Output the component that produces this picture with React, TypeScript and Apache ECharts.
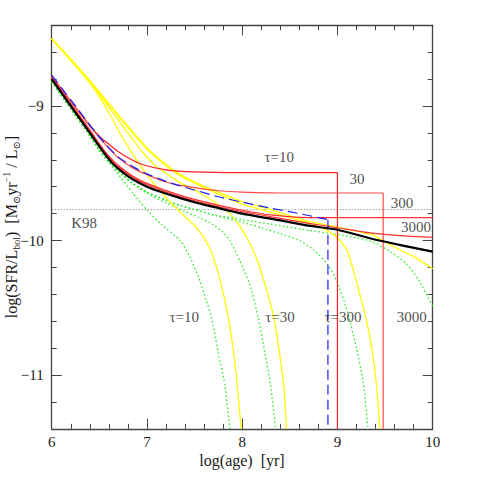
import React, { useEffect, useRef } from "react";
import * as echarts from "echarts";

const FONT = "'Liberation Serif', 'DejaVu Serif', serif";

// axis ticks
const xTickValues = [6, 7, 8, 9, 10];
const yMajorTicks = [-11, -10, -9];

// K98 reference level
const k98Level = -9.77;

// constant SFR (black)
const blackCurve = [
  [6.0, -8.8], [6.2, -9.0], [6.4, -9.2], [6.55, -9.35], [6.65, -9.435], [6.75, -9.495],
  [6.85, -9.545], [7.0, -9.6], [7.15, -9.64], [7.35, -9.685], [7.55, -9.725], [7.7, -9.75],
  [8.0, -9.8], [8.4, -9.85], [8.7, -9.89], [9.0, -9.92], [9.35, -9.985], [9.7, -10.04], [10.0, -10.083],
];

// blue dashed (truncated at 8.9)
const blueCurve = [
  [6.0, -8.77], [6.2, -8.955], [6.4, -9.14], [6.5, -9.23], [6.6, -9.31], [6.7, -9.38],
  [6.85, -9.45], [7.0, -9.505], [7.2, -9.56], [7.35, -9.595], [7.55, -9.635], [7.75, -9.675],
  [8.0, -9.715], [8.3, -9.76], [8.6, -9.8], [8.9, -9.845],
];
const blueDrop = [[8.9, -9.845], [8.9, -11.4]];

// red curves
const red10 = [
  [6.0, -8.78], [6.2, -8.965], [6.4, -9.145], [6.5, -9.225], [6.6, -9.285], [6.7, -9.34],
  [6.8, -9.385], [6.95, -9.435], [7.2, -9.475], [7.5, -9.49], [8.0, -9.495], [9.0, -9.495],
];
const red10Drop = [[9.0, -9.495], [9.0, -11.4]];
const red30 = [
  [6.0, -8.78], [6.2, -8.965], [6.4, -9.15], [6.5, -9.235], [6.6, -9.315], [6.7, -9.385],
  [6.85, -9.46], [7.0, -9.51], [7.2, -9.565], [7.35, -9.59], [7.55, -9.612], [7.75, -9.63],
  [8.0, -9.64], [8.5, -9.647], [9.48, -9.647],
];
const red30Drop = [[9.48, -9.647], [9.48, -11.4]];
const red300 = [
  [6.0, -8.79], [6.2, -8.985], [6.4, -9.18], [6.55, -9.33], [6.65, -9.41], [6.75, -9.47],
  [6.85, -9.52], [7.0, -9.575], [7.35, -9.665], [7.7, -9.73], [8.0, -9.775], [8.3, -9.81],
  [8.6, -9.828], [9.0, -9.83], [10.0, -9.83],
];
const red3000 = [
  [6.0, -8.79], [6.2, -8.985], [6.4, -9.18], [6.55, -9.335], [6.65, -9.42], [6.75, -9.48],
  [6.85, -9.53], [7.0, -9.585], [7.35, -9.675], [7.7, -9.74], [8.0, -9.785], [8.4, -9.835],
  [8.7, -9.872], [9.0, -9.905], [9.36, -9.945], [9.7, -9.965], [10.0, -9.976],
];

// yellow curves
const yellow10 = [
  [6.0, -8.5], [6.2, -8.66], [6.4, -8.83], [6.5, -8.93], [6.6, -9.05], [6.7, -9.18],
  [6.8, -9.3], [6.9, -9.41], [7.0, -9.51], [7.1, -9.6], [7.2, -9.68], [7.35, -9.79],
  [7.5, -9.89], [7.6, -9.98], [7.68, -10.09], [7.77, -10.3], [7.85, -10.56], [7.9, -10.78],
  [7.94, -11.02], [7.97, -11.25], [7.99, -11.4],
];
const yellow30 = [
  [6.0, -8.5], [6.2, -8.66], [6.4, -8.82], [6.6, -9.01], [6.8, -9.2], [6.95, -9.34],
  [7.1, -9.45], [7.35, -9.57], [7.55, -9.645], [7.7, -9.71], [7.87, -9.8], [7.97, -9.89],
  [8.08, -10.02], [8.16, -10.15], [8.24, -10.33], [8.3, -10.48], [8.34, -10.6], [8.39, -10.83],
  [8.435, -11.07], [8.465, -11.4],
];
const yellow300 = [
  [6.0, -8.5], [6.2, -8.655], [6.4, -8.815], [6.6, -8.99], [6.8, -9.16], [7.0, -9.32],
  [7.2, -9.445], [7.35, -9.52], [7.55, -9.59], [7.75, -9.655], [8.0, -9.73], [8.3, -9.79],
  [8.7, -9.87], [8.85, -9.91], [9.0, -9.98], [9.1, -10.07], [9.19, -10.28], [9.25, -10.44],
  [9.31, -10.61], [9.36, -10.8], [9.39, -10.95], [9.42, -11.15], [9.445, -11.4],
];
const yellow3000 = [
  [6.0, -8.5], [6.2, -8.65], [6.4, -8.81], [6.6, -8.98], [6.8, -9.15], [7.0, -9.31],
  [7.2, -9.435], [7.35, -9.51], [7.55, -9.58], [7.75, -9.64], [8.0, -9.71], [8.3, -9.77],
  [8.66, -9.85], [9.0, -9.9], [9.2, -9.93], [9.36, -9.955], [9.45, -9.99], [9.6, -10.05],
  [9.8, -10.12], [10.0, -10.21],
];

// green dotted curves
const green10 = [
  [6.0, -8.82], [6.2, -9.02], [6.4, -9.22], [6.5, -9.33], [6.6, -9.42], [6.7, -9.51],
  [6.85, -9.645], [7.0, -9.775], [7.15, -9.88], [7.35, -10.0], [7.45, -10.12], [7.555, -10.3],
  [7.62, -10.44], [7.68, -10.58], [7.747, -10.83], [7.817, -11.07], [7.87, -11.4],
];
const green30 = [
  [6.0, -8.82], [6.2, -9.02], [6.4, -9.22], [6.5, -9.33], [6.6, -9.415], [6.7, -9.485],
  [6.85, -9.575], [7.0, -9.65], [7.2, -9.72], [7.4, -9.785], [7.55, -9.83], [7.7, -9.885],
  [7.8, -9.94], [7.87, -10.0], [7.975, -10.15], [8.08, -10.33], [8.167, -10.57], [8.237, -10.83],
  [8.297, -11.07], [8.35, -11.4],
];
const green300 = [
  [6.0, -8.82], [6.2, -9.02], [6.4, -9.22], [6.5, -9.33], [6.6, -9.415], [6.7, -9.485],
  [6.85, -9.575], [7.0, -9.64], [7.2, -9.7], [7.35, -9.74], [7.55, -9.78], [7.7, -9.81],
  [8.0, -9.865], [8.2, -9.905], [8.4, -9.95], [8.6, -10.0], [8.75, -10.07], [8.9, -10.18],
  [9.0, -10.31], [9.1, -10.52], [9.2, -10.8], [9.27, -11.05], [9.32, -11.4],
];
const green3000 = [
  [6.0, -8.82], [6.2, -9.02], [6.4, -9.22], [6.5, -9.33], [6.6, -9.415], [6.7, -9.485],
  [6.85, -9.575], [7.0, -9.64], [7.2, -9.7], [7.35, -9.74], [7.55, -9.78], [7.7, -9.81],
  [8.0, -9.845], [8.4, -9.89], [8.7, -9.925], [9.0, -9.955], [9.2, -9.98], [9.37, -10.01],
  [9.55, -10.08], [9.72, -10.17], [9.85, -10.29], [10.0, -10.49],
];

// annotations
const labelTexts = ["τ=10", "30", "300", "3000", "K98", "τ=10", "τ=30", "τ=300", "3000"];
const labelAges = [8.388, 9.205, 9.678, 9.825, 6.341, 7.391, 8.397, 9.058, 9.78];
const labelLogs = [-9.377, -9.543, -9.723, -9.897, -9.87, -10.571, -10.571, -10.571, -10.571];

const AXIS_COLOR = "#444";
const TEXT_COLOR = "#1a1a1a";

function lineSeries(data: number[][], color: string, width: number, type: any, z: number, smooth: any = 0.2) {
  return {
    type: "line",
    data,
    symbol: "none",
    showSymbol: false,
    smooth,
    silent: true,
    z,
    lineStyle: { color, width, type, join: "round" },
  };
}

const minus = (v: number) => (v < 0 ? "\u2212" + Math.abs(v) : String(v));

export default function App() {
  const ref = useRef<HTMLDivElement>(null);

  useEffect(() => {
    if (!ref.current) return;
    const chart = echarts.init(ref.current, null, { renderer: "svg" });

    const common = { type: "value", splitLine: { show: false } };
    const xBase = {
      ...common,
      min: 6,
      max: 10,
      interval: 1,
      axisLine: { show: true, onZero: false, lineStyle: { color: AXIS_COLOR, width: 1.3 } },
      axisTick: { show: true, inside: true, length: 10, lineStyle: { color: AXIS_COLOR, width: 1 } },
      minorTick: { show: true, splitNumber: 5, length: 5, lineStyle: { color: AXIS_COLOR, width: 1 } },
    };
    const yMajor = {
      ...common,
      min: -11.4,
      max: -8.4,
      axisLine: { show: true, onZero: false, lineStyle: { color: AXIS_COLOR, width: 1.3 } },
      axisTick: { show: true, inside: true, length: 10, customValues: yMajorTicks, lineStyle: { color: AXIS_COLOR, width: 1 } },
    };
    const yMinor = {
      ...common,
      min: -11.4,
      max: -8.4,
      interval: 0.2,
      axisLine: { show: false },
      axisTick: { show: true, inside: true, length: 5, lineStyle: { color: AXIS_COLOR, width: 1 } },
      axisLabel: { show: false },
    };

    const option: any = {
      animation: false,
      backgroundColor: "#fff",
      grid: { left: 51.7, right: 47.3, top: 25.3, bottom: 51.2, containLabel: false },
      xAxis: [
        {
          ...xBase,
          position: "bottom",
          axisLabel: {
            show: true,
            margin: 6,
            fontFamily: FONT,
            fontSize: 15,
            color: TEXT_COLOR,
            customValues: xTickValues,
            formatter: (v: number) => String(v),
          },
        },
        { ...xBase, position: "top", axisLabel: { show: false } },
      ],
      yAxis: [
        {
          ...yMajor,
          position: "left",
          axisLabel: {
            show: true,
            margin: 8,
            fontFamily: FONT,
            fontSize: 15,
            color: TEXT_COLOR,
            customValues: yMajorTicks,
            formatter: (v: number) => minus(v),
          },
        },
        { ...yMinor, position: "left" },
        { ...yMajor, position: "right", axisLabel: { show: false } },
        { ...yMinor, position: "right" },
      ],
      graphic: [
        {
          type: "text",
          x: 242,
          y: 460,
          style: {
            text: "log(age)  [yr]",
            font: `16px ${FONT}`,
            fill: TEXT_COLOR,
            align: "center",
            verticalAlign: "middle",
          },
        },
        {
          type: "text",
          x: 11,
          y: 227,
          rotation: Math.PI / 2,
          style: {
            text: "{n|log(SFR/L}{s|bol}{n|)  [M}{s|\u2299}{n|yr}{p|\u22121}{n| / L}{s|\u2299}{n|]}",
            align: "center",
            verticalAlign: "middle",
            fill: TEXT_COLOR,
            rich: {
              n: { fontFamily: FONT, fontSize: 16, lineHeight: 20, verticalAlign: "middle", fill: TEXT_COLOR },
              s: { fontFamily: FONT, fontSize: 10, lineHeight: 10, verticalAlign: "bottom", fill: TEXT_COLOR },
              p: { fontFamily: FONT, fontSize: 10, lineHeight: 10, verticalAlign: "top", fill: TEXT_COLOR },
            },
          },
        },
      ],
      series: [
        lineSeries([[6, k98Level], [10, k98Level]], "#777", 1, [1, 2], 1, false),
        lineSeries(green10, "#22ee22", 1.3, [1.5, 2.5], 2),
        lineSeries(green30, "#22ee22", 1.3, [1.5, 2.5], 2),
        lineSeries(green300, "#22ee22", 1.3, [1.5, 2.5], 2),
        lineSeries(green3000, "#22ee22", 1.3, [1.5, 2.5], 2),
        lineSeries(yellow10, "#ffff00", 1.3, "solid", 3),
        lineSeries(yellow30, "#ffff00", 1.3, "solid", 3),
        lineSeries(yellow300, "#ffff00", 1.3, "solid", 3),
        lineSeries(yellow3000, "#ffff00", 1.3, "solid", 3),
        lineSeries(red10, "#ff2020", 1.2, "solid", 4),
        lineSeries(red10Drop, "#ff2020", 1.2, "solid", 4, false),
        lineSeries(red30, "#ff4a4a", 1.2, "solid", 4),
        lineSeries(red30Drop, "#ff4a4a", 1.2, "solid", 4, false),
        lineSeries(red300, "#ff3030", 1.2, "solid", 4),
        lineSeries(red3000, "#ff3030", 1.2, "solid", 4),
        lineSeries(blueCurve, "#1a1aff", 1.2, [10, 5], 5),
        lineSeries(blueDrop, "#1a1aff", 1.2, [10, 5], 5, false),
        lineSeries(blackCurve, "#000000", 2.2, "solid", 6),
        {
          type: "scatter",
          silent: true,
          z: 7,
          symbolSize: 1,
          itemStyle: { color: "rgba(0,0,0,0)" },
          data: labelAges.map((x, i) => [x, labelLogs[i]]),
          label: {
            show: true,
            position: "inside",
            fontFamily: FONT,
            fontSize: 15,
            color: TEXT_COLOR,
            formatter: (p: any) => labelTexts[p.dataIndex],
          },
        },
      ],
    };

    chart.setOption(option);
    return () => chart.dispose();
  }, []);

  return (
    <div
      ref={ref}
      style={{ position: "fixed", left: 0, top: 0, width: 480, height: 480, background: "#fff" }}
    />
  );
}
